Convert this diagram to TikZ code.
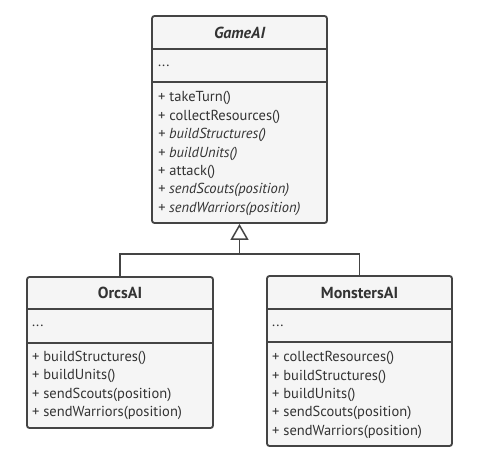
\documentclass[tikz,border=0pt]{standalone}
\usepackage{fontspec}
\setmainfont{PT Sans}
\usetikzlibrary{arrows.meta}

\definecolor{umlline}{HTML}{444444}
\definecolor{umlfill}{HTML}{F5F5F5}
\definecolor{umltext}{HTML}{333333}

\tikzset{
  classbox/.style = {draw = umlline, fill = umlfill, line width = 1.8pt,
    rounded corners = 2.5pt, inner sep = 0pt},
  classname/.style = {font = \fontsize{16}{18}\selectfont\bfseries,
    text = umltext, inner sep = 0pt},
  members/.style = {font = \fontsize{14.5}{18.4}\selectfont, text = umltext,
    align = left, anchor = west, inner sep = 0pt},
  inherit/.style = {draw = umlline, line width = 1.5pt}
}

\begin{document}
\begin{tikzpicture}[x = 1pt, y = -1pt]
  \useasboundingbox (0, 0) rectangle (481, 462);

  \node[classbox, minimum width = 175pt, minimum height = 207pt]
  (gameaibox) at (239.5, 119.5) {};
  \draw[inherit, line width = 1.8pt] (152, 49) -- (327, 49);
  \draw[inherit, line width = 1.8pt] (152, 82) -- (327, 82);
  \node[classname] (gameai) at (239.5, 32.5) {\itshape GameAI};
  \node[members] (gameaiattr) at (158, 65.5) {...};
  \node[members] (gameaimeth) at (158, 153.5)
  {+ takeTurn()\\ + collectResources()\\ \itshape + buildStructures()\\
    \itshape + buildUnits()\\ + attack()\\ \itshape + sendScouts(position)\\
    \itshape + sendWarriors(position)};

  \node[classbox, minimum width = 186pt, minimum height = 151pt]
  (orcsbox) at (120, 352.5) {};
  \draw[inherit, line width = 1.8pt] (27, 309) -- (213, 309);
  \draw[inherit, line width = 1.8pt] (27, 343) -- (213, 343);
  \node[classname] (orcs) at (120, 293) {OrcsAI};
  \node[members] (orcsattr) at (32, 326) {...};
  \node[members] (orcsmeth) at (32, 385.5)
  {+ buildStructures()\\ + buildUnits()\\ + sendScouts(position)\\
    + sendWarriors(position)};

  \node[classbox, minimum width = 185pt, minimum height = 170pt]
  (monstersbox) at (359.5, 361) {};
  \draw[inherit, line width = 1.8pt] (267, 309) -- (452, 309);
  \draw[inherit, line width = 1.8pt] (267, 342) -- (452, 342);
  \node[classname] (monsters) at (359.5, 292.5) {MonstersAI};
  \node[members] (monstersattr) at (272, 325.5) {...};
  \node[members] (monstersmeth) at (272, 395)
  {+ collectResources()\\ + buildStructures()\\ + buildUnits()\\
    + sendScouts(position)\\ + sendWarriors(position)};

  \coordinate (joint) at (239.5, 254);
  \draw[inherit] (orcsbox.north) |- (joint) -| (monstersbox.north);
  \draw[inherit, -{Triangle[open, length = 16pt, width = 18pt]}] (joint) --
  (gameaibox.south);
\end{tikzpicture}
\end{document}
